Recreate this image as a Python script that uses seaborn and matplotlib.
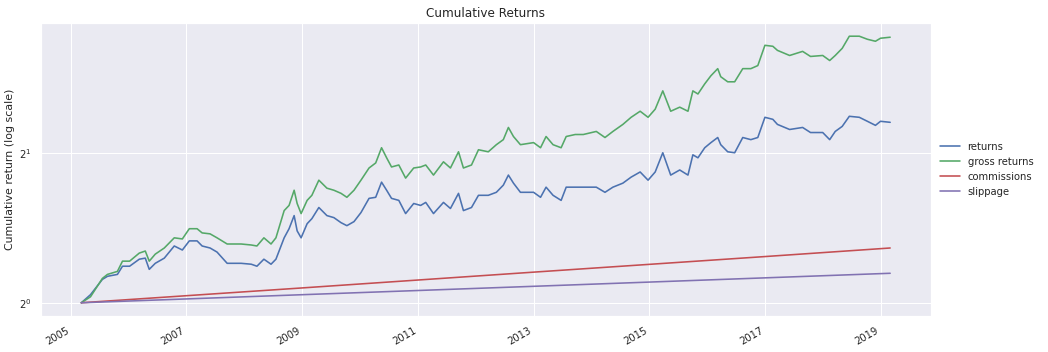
import pandas as pd
import matplotlib.pyplot as plt
import matplotlib.dates as mdates
import seaborn as sns

dates = [
    "2005-03-08", "2005-05-05", "2005-07-19", "2005-08-20", "2005-10-22", "2005-11-23",
    "2006-01-07", "2006-03-09", "2006-04-16", "2006-05-11", "2006-06-18", "2006-08-14",
    "2006-10-16", "2006-12-06", "2007-01-19", "2007-03-09", "2007-04-10", "2007-05-30",
    "2007-07-13", "2007-09-15", "2007-12-12", "2008-02-14", "2008-03-21", "2008-05-04",
    "2008-06-18", "2008-07-19", "2008-09-09", "2008-10-10", "2008-11-11", "2008-11-30",
    "2008-12-25", "2009-02-01", "2009-03-03", "2009-04-16", "2009-06-06", "2009-07-20",
    "2009-09-03", "2009-10-10", "2009-11-24", "2010-01-07", "2010-02-27", "2010-04-10",
    "2010-05-17", "2010-06-18", "2010-07-19", "2010-09-03", "2010-10-16", "2010-12-06",
    "2011-01-19", "2011-02-20", "2011-04-10", "2011-06-12", "2011-07-26", "2011-09-15",
    "2011-10-16", "2011-12-06", "2012-01-19", "2012-03-21", "2012-05-11", "2012-06-24",
    "2012-07-26", "2012-08-27", "2012-10-10", "2013-01-01", "2013-02-14", "2013-03-21",
    "2013-05-04", "2013-06-24", "2013-07-26", "2013-09-21", "2013-11-11", "2014-02-01",
    "2014-03-28", "2014-05-17", "2014-07-19", "2014-09-09", "2014-11-05", "2014-12-25",
    "2015-02-08", "2015-03-28", "2015-05-17", "2015-07-13", "2015-09-03", "2015-10-04",
    "2015-11-05", "2015-12-18", "2016-01-26", "2016-03-09", "2016-03-28", "2016-05-11",
    "2016-06-24", "2016-08-14", "2016-10-04", "2016-11-17", "2017-01-01", "2017-02-20",
    "2017-03-21", "2017-06-06", "2017-08-27", "2017-10-16", "2018-01-01", "2018-02-14",
    "2018-03-21", "2018-05-04", "2018-06-18", "2018-08-20", "2018-10-10", "2018-11-30",
    "2019-01-01", "2019-03-03",
]

returns = [
    1.000, 1.038, 1.114, 1.130, 1.140, 1.184,
    1.184, 1.223, 1.229, 1.167, 1.200, 1.229,
    1.300, 1.276, 1.331, 1.331, 1.300, 1.288,
    1.264, 1.200, 1.200, 1.195, 1.184, 1.223,
    1.195, 1.223, 1.350, 1.408, 1.496, 1.394,
    1.350, 1.441, 1.475, 1.553, 1.496, 1.482,
    1.448, 1.428, 1.455, 1.517, 1.620, 1.628,
    1.746, 1.682, 1.620, 1.605, 1.510, 1.582,
    1.568, 1.590, 1.510, 1.590, 1.546, 1.658,
    1.531, 1.553, 1.643, 1.643, 1.666, 1.722,
    1.804, 1.738, 1.666, 1.666, 1.628, 1.706,
    1.643, 1.605, 1.706, 1.706, 1.706, 1.706,
    1.666, 1.706, 1.738, 1.787, 1.830, 1.762,
    1.830, 2.000, 1.804, 1.847, 1.804, 1.981,
    1.954, 2.047, 2.096, 2.146, 2.076, 2.009,
    2.000, 2.146, 2.125, 2.146, 2.356, 2.334,
    2.280, 2.227, 2.248, 2.196, 2.196, 2.125,
    2.207, 2.259, 2.367, 2.356, 2.313, 2.270,
    2.313, 2.302,
]

gross_returns = [
    1.000, 1.028, 1.119, 1.140, 1.156, 1.212,
    1.212, 1.258, 1.270, 1.212, 1.252, 1.288,
    1.350, 1.343, 1.408, 1.408, 1.381, 1.375,
    1.350, 1.312, 1.312, 1.306, 1.300, 1.350,
    1.312, 1.350, 1.531, 1.568, 1.682, 1.582,
    1.510, 1.605, 1.643, 1.762, 1.698, 1.682,
    1.658, 1.628, 1.682, 1.762, 1.864, 1.908,
    2.047, 1.954, 1.873, 1.890, 1.779, 1.864,
    1.873, 1.890, 1.804, 1.918, 1.864, 2.009,
    1.864, 1.890, 2.028, 2.009, 2.076, 2.125,
    2.248, 2.156, 2.076, 2.096, 2.047, 2.156,
    2.076, 2.047, 2.156, 2.176, 2.176, 2.207,
    2.146, 2.207, 2.280, 2.356, 2.423, 2.356,
    2.446, 2.662, 2.423, 2.469, 2.423, 2.662,
    2.624, 2.750, 2.855, 2.950, 2.842, 2.776,
    2.776, 2.950, 2.950, 2.992, 3.286, 3.271,
    3.210, 3.135, 3.195, 3.121, 3.135, 3.063,
    3.135, 3.240, 3.427, 3.427, 3.379, 3.348,
    3.395, 3.411,
]

cost_dates = ["2005-03-08", "2009-01-01", "2013-01-01", "2017-01-01", "2019-03-03"]
commissions = [1.000, 1.071, 1.152, 1.238, 1.288]
slippage = [1.000, 1.038, 1.079, 1.122, 1.146]

series_names = ["returns", "gross returns", "commissions", "slippage"]
colors = ["#4C72B0", "#55A868", "#C44E52", "#8172B2"]
tick_years = ["2005", "2007", "2009", "2011", "2013", "2015", "2017", "2019"]

df = pd.concat([
    pd.DataFrame({"date": pd.to_datetime(dates), "value": returns, "series": "returns"}),
    pd.DataFrame({"date": pd.to_datetime(dates), "value": gross_returns, "series": "gross returns"}),
    pd.DataFrame({"date": pd.to_datetime(cost_dates), "value": commissions, "series": "commissions"}),
    pd.DataFrame({"date": pd.to_datetime(cost_dates), "value": slippage, "series": "slippage"}),
], ignore_index=True)

sns.set_theme(style="darkgrid")
plt.rcParams["font.family"] = ["DejaVu Sans"]

fig, ax = plt.subplots(figsize=(1048 / 72, 352 / 72), dpi=72)
sns.lineplot(data=df, x="date", y="value", hue="series", hue_order=series_names,
             palette=dict(zip(series_names, colors)), estimator=None, sort=True,
             linewidth=1.6, ax=ax)

ax.set_yscale("log", base=2)
ax.set_title("Cumulative Returns", fontsize=12)
ax.set_xlabel("")
ax.set_ylabel("Cumulative return (log scale)", fontsize=11)
ax.set_xticks(pd.to_datetime(tick_years))
ax.xaxis.set_major_formatter(mdates.DateFormatter("%Y"))
ax.tick_params(labelsize=10)

handles, labels = ax.get_legend_handles_labels()
ax.legend(handles, labels, loc="center left", bbox_to_anchor=(1, 0.5),
          frameon=False, fontsize=10)

fig.autofmt_xdate()
fig.subplots_adjust(left=0.039, right=0.888, top=0.935, bottom=0.102)
fig.savefig("out.png", dpi=72)
